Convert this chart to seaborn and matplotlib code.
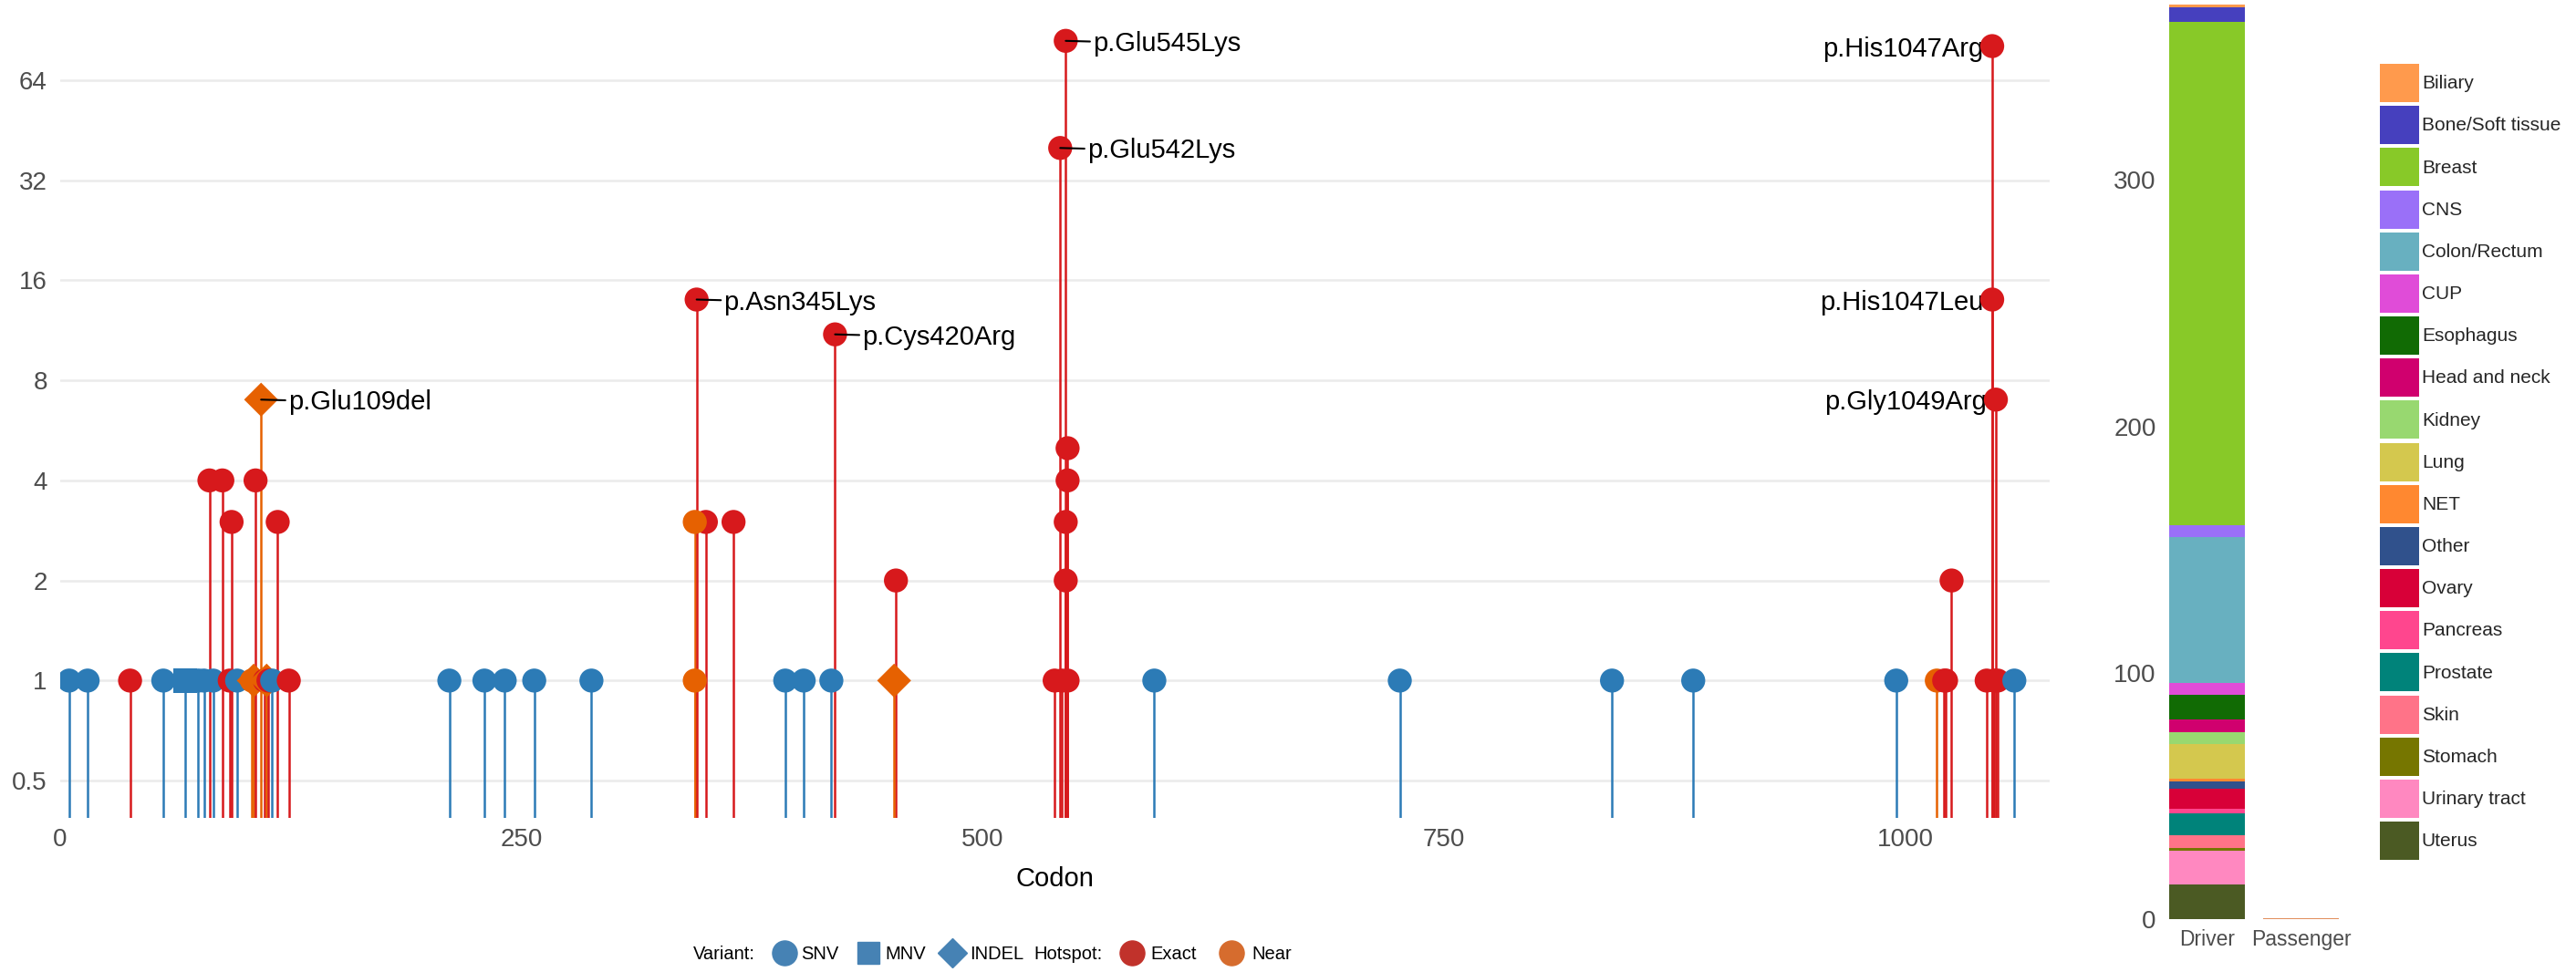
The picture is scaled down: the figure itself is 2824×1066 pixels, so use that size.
import numpy as np
import pandas as pd
import matplotlib
matplotlib.use("Agg")
import matplotlib.pyplot as plt
import seaborn as sns
from matplotlib.lines import Line2D
from matplotlib.patches import Patch

# ---------------- data: lollipop ----------------
codon = [5, 15, 38, 56, 68, 75, 78, 81, 83, 88, 92, 93, 96, 104, 105, 106, 109, 111, 112, 113, 115, 118, 124,
         211, 230, 241, 257, 288, 350, 344, 344, 345, 365, 393, 403, 418, 420, 453, 452,
         539, 542, 543, 545, 545, 546, 546, 545, 546, 593, 726, 841, 885, 995,
         1017, 1021, 1022, 1025, 1044, 1047, 1047, 1049, 1048, 1050, 1059]
count = [1, 1, 1, 1, 1, 1, 1, 4, 1, 4, 1, 3, 1, 1, 1, 4, 7, 1, 1, 1, 1, 3, 1,
         1, 1, 1, 1, 1, 3, 3, 1, 14, 3, 1, 1, 1, 11, 2, 1,
         1, 40, 1, 84, 3, 5, 4, 2, 1, 1, 1, 1, 1, 1,
         1, 1, 1, 2, 1, 81, 14, 7, 1, 1, 1]
variant = ["SNV", "SNV", "SNV", "SNV", "MNV", "SNV", "SNV", "SNV", "SNV", "SNV", "SNV", "SNV", "SNV", "SNV", "INDEL", "SNV", "INDEL", "SNV", "INDEL", "SNV", "SNV", "SNV", "SNV",
           "SNV", "SNV", "SNV", "SNV", "SNV", "SNV", "SNV", "SNV", "SNV", "SNV", "SNV", "SNV", "SNV", "SNV", "SNV", "INDEL",
           "SNV", "SNV", "SNV", "SNV", "SNV", "SNV", "SNV", "SNV", "SNV", "SNV", "SNV", "SNV", "SNV", "SNV",
           "SNV", "SNV", "SNV", "SNV", "SNV", "SNV", "SNV", "SNV", "SNV", "SNV", "SNV"]
hotspot = ["None", "None", "Exact", "None", "None", "None", "None", "Exact", "None", "Exact", "Exact", "Exact", "None", "Near", "Near", "Exact", "Near", "Exact", "Near", "Exact", "None", "Exact", "Exact",
           "None", "None", "None", "None", "None", "Exact", "Near", "Near", "Exact", "Exact", "None", "None", "None", "Exact", "Exact", "Near",
           "Exact", "Exact", "Exact", "Exact", "Exact", "Exact", "Exact", "Exact", "Exact", "None", "None", "None", "None", "None",
           "Near", "Exact", "Exact", "Exact", "Exact", "Exact", "Exact", "Exact", "Exact", "Exact", "None"]

label_codon = [109, 345, 420, 545, 542, 1047, 1047, 1049]
label_count = [7, 14, 11, 84, 40, 81, 14, 7]
label_text = ["p.Glu109del", "p.Asn345Lys", "p.Cys420Arg", "p.Glu545Lys", "p.Glu542Lys",
              "p.His1047Arg", "p.His1047Leu", "p.Gly1049Arg"]
label_side = ["right", "right", "right", "right", "right", "left", "left", "left"]

y_ticks = [0.5, 1, 2, 4, 8, 16, 32, 64]
y_ticklabels = ["0.5", "1", "2", "4", "8", "16", "32", "64"]
x_ticks = [0, 250, 500, 750, 1000]

# ---------------- data: stacked bar ----------------
bar_cats = ["Driver", "Passenger"]
tissues = ["Biliary", "Bone/Soft tissue", "Breast", "CNS", "Colon/Rectum", "CUP", "Esophagus",
           "Head and neck", "Kidney", "Lung", "NET", "Other", "Ovary", "Pancreas", "Prostate",
           "Skin", "Stomach", "Urinary tract", "Uterus"]
tissue_colors = ["#FF9A4D", "#4640BE", "#88C928", "#9A70F8", "#68B0C0", "#E04CD8", "#116B04",
                 "#D0006E", "#98D870", "#D4C84E", "#FF8830", "#30518C", "#D80038", "#FF468E",
                 "#00837A", "#FF7388", "#767600", "#FF88C0", "#4B5A23"]
driver = [1, 6, 204, 5, 59, 5, 10, 5, 5, 14, 1, 3, 8, 2, 9, 5, 1, 14, 14]
passenger = [0] * 19
bar_yticks = [0, 100, 200, 300]

# ---------------- styling ----------------
sns.set_theme(style="white")
plt.rcParams["font.family"] = ["Liberation Sans", "DejaVu Sans"]

W, H = 2824, 1066
fig = plt.figure(figsize=(W / 100, H / 100), dpi=100)

def fx(px):
    return px / W

def fy(py):
    return 1 - py / H

ax_left, ax_right, ax_top, ax_bot = 65.7, 2246.7, 15, 896.7
ax = fig.add_axes([fx(ax_left), fy(ax_bot), fx(ax_right - ax_left), (ax_bot - ax_top) / H])

df = pd.DataFrame({"codon": codon, "count": count, "variant": variant, "hotspot": hotspot})
pal = {"None": "#2C7BB6", "Exact": "#D7191C", "Near": "#E66101"}
df["color"] = df["hotspot"].map(pal)

ax.set_yscale("log", base=2)
ymin, ymax = 0.387, 101.4
ax.vlines(df["codon"], 0.2, df["count"], colors=df["color"], lw=1.8, zorder=2)
sns.scatterplot(data=df, x="codon", y="count", hue="hotspot", style="variant",
                palette=pal, markers={"SNV": "o", "MNV": "s", "INDEL": "D"},
                s=360, linewidth=0, legend=False, ax=ax, zorder=3)
ax.set_ylim(ymin, ymax)
ax.set_xlim(0, 1078)
ax.set_yticks(y_ticks)
ax.set_yticklabels(y_ticklabels)
ax.yaxis.set_minor_locator(matplotlib.ticker.NullLocator())
ax.set_xticks(x_ticks)
ax.set_xticklabels([str(t) for t in x_ticks])
ax.tick_params(axis="both", length=0, labelsize=20, labelcolor="#4D4D4D")
ax.tick_params(axis="y", pad=10)
ax.tick_params(axis="x", pad=8)
ax.yaxis.grid(True, color="#EBEBEB", lw=1.8)
ax.xaxis.grid(False)
ax.set_axisbelow(True)
for sp in ax.spines.values():
    sp.set_visible(False)
ax.set_ylabel("")
ax.set_xlabel("Codon", fontsize=21, color="black", labelpad=12)

for c, n, t, side in zip(label_codon, label_count, label_text, label_side):
    if side == "right":
        ax.annotate(t, xy=(c, n), xytext=(21.5, 0), textcoords="offset points",
                    ha="left", va="center_baseline", fontsize=21, color="black",
                    arrowprops=dict(arrowstyle="-", color="black", lw=1.5, shrinkA=0, shrinkB=0),
                    zorder=5)
    else:
        ax.annotate(t, xy=(c, n), xytext=(-7, 0), textcoords="offset points",
                    ha="right", va="center_baseline", fontsize=21, color="black", zorder=2.5)

# bottom legend (manual layout)
ly = fy(1045)
leg_font = 14.5
fig.text(fx(760), ly, "Variant:", ha="left", va="center_baseline", fontsize=leg_font, color="black")
fig.add_artist(Line2D([fx(859.5)], [ly], transform=fig.transFigure, marker="o", ms=19.5,
                      color="#4682B4", ls="none"))
fig.text(fx(878.4), ly, "SNV", ha="left", va="center_baseline", fontsize=leg_font, color="black")
fig.add_artist(Line2D([fx(951.6)], [ly], transform=fig.transFigure, marker="s", ms=17,
                      color="#4682B4", ls="none"))
fig.text(fx(970), ly, "MNV", ha="left", va="center_baseline", fontsize=leg_font, color="black")
fig.add_artist(Line2D([fx(1043.7)], [ly], transform=fig.transFigure, marker="D", ms=16.5,
                      color="#4682B4", ls="none"))
fig.text(fx(1062.7), ly, "INDEL", ha="left", va="center_baseline", fontsize=leg_font, color="black")
fig.text(fx(1133), ly, "Hotspot:", ha="left", va="center_baseline", fontsize=leg_font, color="black")
fig.add_artist(Line2D([fx(1240.6)], [ly], transform=fig.transFigure, marker="o", ms=19.5,
                      color="#C1322B", ls="none"))
fig.text(fx(1261.3), ly, "Exact", ha="left", va="center_baseline", fontsize=leg_font, color="black")
fig.add_artist(Line2D([fx(1350.3)], [ly], transform=fig.transFigure, marker="o", ms=19.5,
                      color="#D66C2E", ls="none"))
fig.text(fx(1372.7), ly, "Near", ha="left", va="center_baseline", fontsize=leg_font, color="black")

# ---------------- stacked bar ----------------
bx_left, bx_right, bx_top, bx_bot = 2368, 2574, 0, 1008.2
axb = fig.add_axes([fx(bx_left), fy(bx_bot), fx(bx_right - bx_left), (bx_bot - bx_top) / H])
xpos = np.arange(len(bar_cats))
bottom = np.zeros(len(bar_cats))
for t, col, d, p in list(zip(tissues, tissue_colors, driver, passenger))[::-1]:
    vals = np.array([d, p], dtype=float)
    axb.bar(xpos, vals, bottom=bottom, width=0.8, color=col, edgecolor=col,
            linewidth=[0, 1.2], label=t)
    bottom += vals
axb.set_xlim(-0.5, 1.5)
axb.set_ylim(0, 373)
axb.set_xticks(xpos)
axb.set_xticklabels(bar_cats)
axb.set_yticks(bar_yticks)
axb.set_yticklabels([str(v) for v in bar_yticks])
axb.tick_params(axis="both", length=0, labelcolor="#4D4D4D")
axb.tick_params(axis="y", labelsize=20, pad=3)
axb.tick_params(axis="x", labelsize=16.5, pad=8)
axb.grid(False)
for sp in axb.spines.values():
    sp.set_visible(False)

handles = [Patch(facecolor=c, edgecolor="none", label=t) for t, c in zip(tissues, tissue_colors)]
fs = 15
axb.legend(handles=handles, loc="upper left", bbox_to_anchor=(fx(2609), fy(70)),
           bbox_transform=fig.transFigure, frameon=False, fontsize=fs,
           handlelength=2.05, handleheight=2.725, labelspacing=0.2, handletextpad=0.15,
           borderpad=0, borderaxespad=0)

fig.savefig("out.png", dpi=100)
